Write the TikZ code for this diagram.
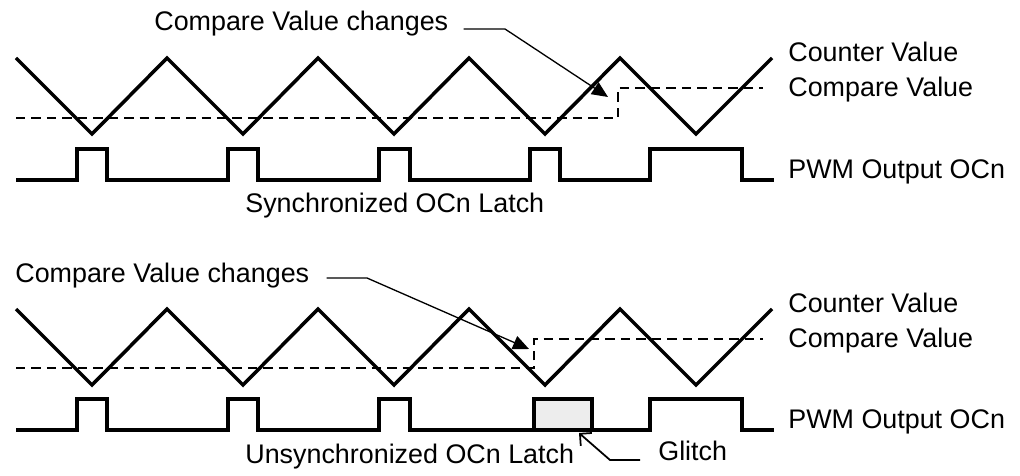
\documentclass[tikz,border=0pt]{standalone}
\usepackage{fontspec}
\setmainfont{Liberation Sans}
\usepackage{tikz}
\usetikzlibrary{arrows.meta}
\definecolor{ink}{HTML}{000000}
\definecolor{glitchfill}{HTML}{EDEDED}

\begin{document}
\begin{tikzpicture}[x=0.02cm,y=-0.02cm,
  font=\fontsize{15.3}{18}\selectfont,
  wave/.style={draw=ink,line width=2pt,line join=miter},
  cmp/.style={draw=ink,line width=0.85pt,dash pattern=on 5.4pt off 3.4pt},
  call/.style={draw=ink,line width=0.75pt,-{Triangle[length=3.2mm,width=2.8mm]}},
  mark glitch/.style={draw=ink,line width=1pt,-{Straight Barb[length=1.7mm,width=3.4mm]}},
  lbl/.style={inner sep=0pt,anchor=base west}]
\useasboundingbox (0,0) rectangle (1020,476);

% synchronized latch
\draw[cmp] (16,118) -- (618,118) -- (618,88) -- (763,88);
\draw[wave] (16,58) -- (92,134) -- (167,58) -- (243,134) -- (318,58) -- (394,134)
  -- (469,58) -- (545,134) -- (620,58) -- (696,134) -- (772,58);
\draw[wave] (16,180) -- (77,180) -- (77,149) -- (107,149) -- (107,180) -- (228,180)
  -- (228,149) -- (258,149) -- (258,180) -- (379,180) -- (379,149) -- (410,149)
  -- (410,180) -- (530,180) -- (530,149) -- (560,149) -- (560,180) -- (650,180)
  -- (650,149) -- (742,149) -- (742,180) -- (774,180);

\node[lbl] (cvTop) at (154,31) {Compare Value changes};
\node[lbl] (counterTop) at (788,62) {Counter Value};
\node[lbl] (compareTop) at (788,97) {Compare Value};
\node[lbl] (pwmTop) at (788,178) {PWM Output OCn};
\node[lbl] (latchTop) at (245,213) {Synchronized OCn Latch};

\coordinate (kneeTop) at (505,29);
\coordinate (tipTop) at (608,97);
\draw[call] ([xshift=15*0.02cm,yshift=2*0.02cm]cvTop.base east) -- (kneeTop) -- (tipTop);

% unsynchronized latch
\draw[cmp] (16,368) -- (534,368) -- (534,339) -- (763,339);
\draw[wave] (16,309) -- (92,385) -- (167,309) -- (243,385) -- (318,309) -- (394,385)
  -- (469,309) -- (545,385) -- (620,309) -- (696,385) -- (772,309);
\draw[wave,fill=glitchfill] (534,399) rectangle (592,430);
\draw[wave] (16,430) -- (77,430) -- (77,399) -- (107,399) -- (107,430) -- (228,430)
  -- (228,399) -- (258,399) -- (258,430) -- (379,430) -- (379,399) -- (410,399)
  -- (410,430) -- (534,430) -- (534,399) -- (592,399) -- (592,430) -- (650,430)
  -- (650,399) -- (742,399) -- (742,430) -- (774,430);

\node[lbl] (cvBot) at (15,282) {Compare Value changes};
\node[lbl] (counterBot) at (788,312) {Counter Value};
\node[lbl] (compareBot) at (788,347) {Compare Value};
\node[lbl] (pwmBot) at (788,428) {PWM Output OCn};
\node[lbl] (latchBot) at (245,463) {Unsynchronized OCn Latch};
\node[lbl] (glitch) at (658,460) {Glitch};

\coordinate (kneeBot) at (367,278);
\coordinate (tipBot) at (529,349);
\draw[call] ([xshift=17*0.02cm,yshift=4*0.02cm]cvBot.base east) -- (kneeBot) -- (tipBot);

\coordinate (kneeGlitch) at (610,460);
\coordinate (tipGlitch) at (579,433);
\draw[mark glitch] ([xshift=-18*0.02cm]glitch.base west) -- (kneeGlitch) -- (tipGlitch);
\end{tikzpicture}
\end{document}
